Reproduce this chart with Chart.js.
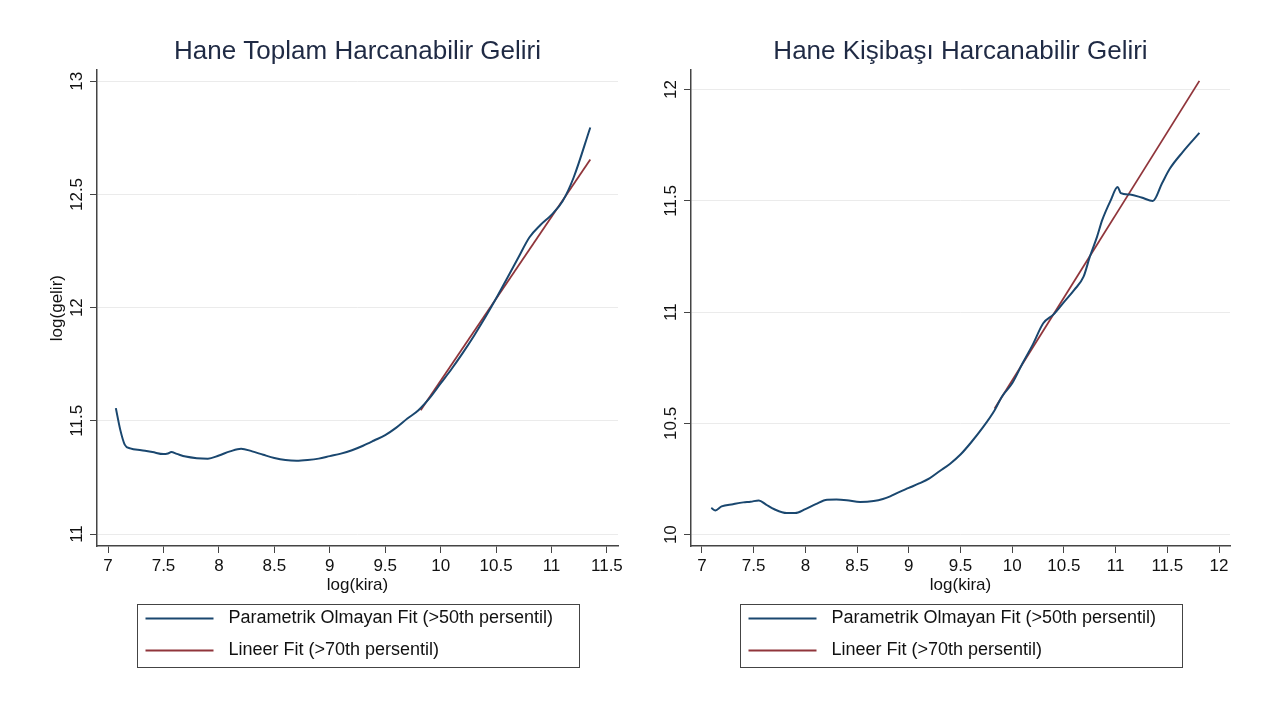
<!DOCTYPE html>
<html>
<head>
<meta charset="utf-8">
<title>log(kira) - log(gelir)</title>
<script src="https://cdn.jsdelivr.net/npm/chart.js@4.4.1/dist/chart.umd.min.js"></script>
<style>
  html, body { margin: 0; padding: 0; background: #fff; }
  #wrap { display: flex; width: 1267px; height: 706px; }
  .panel { position: relative; height: 706px; }
</style>
</head>
<body>
<div id="wrap">
  <div class="panel" style="width:633px"><canvas id="leftChart" width="633" height="706"></canvas></div>
  <div class="panel" style="width:634px"><canvas id="rightChart" width="634" height="706"></canvas></div>
</div>
<script>
// Hane toplam gelir: local fit (>50th) and linear fit (>70th)
const totalKira = [7.07, 7.11, 7.15, 7.2, 7.3, 7.4, 7.5, 7.54, 7.57, 7.62, 7.7, 7.8, 7.9, 8.0, 8.1, 8.2,
  8.3, 8.4, 8.5, 8.6, 8.7, 8.8, 8.9, 9.0, 9.1, 9.2, 9.3, 9.4, 9.5, 9.6, 9.7, 9.8, 9.9, 10.0, 10.1,
  10.2, 10.3, 10.4, 10.5, 10.6, 10.7, 10.8, 10.9, 11.0, 11.1, 11.2, 11.35];
const totalGelir = [11.556, 11.46, 11.395, 11.378, 11.370, 11.362, 11.353, 11.356, 11.362, 11.354,
  11.342, 11.335, 11.333, 11.347, 11.365, 11.377, 11.365, 11.350, 11.336, 11.327, 11.324, 11.327,
  11.333, 11.344, 11.355, 11.37, 11.39, 11.413, 11.437, 11.47, 11.51, 11.547, 11.60, 11.665, 11.73,
  11.80, 11.875, 11.955, 12.04, 12.13, 12.22, 12.31, 12.365, 12.41, 12.47, 12.575, 12.796];
const totalLinKira = [9.82, 11.35];
const totalLinGelir = [11.547, 12.654];

// Hane kisibasi gelir
const perKira = [7.09, 7.13, 7.19, 7.3, 7.4, 7.47, 7.55, 7.62, 7.7, 7.82, 7.9, 8.0, 8.1, 8.21, 8.3,
  8.4, 8.53, 8.66, 8.75, 8.82, 8.9, 9.0, 9.1, 9.2, 9.3, 9.4, 9.5, 9.6, 9.72, 9.83, 9.9, 10.0, 10.1,
  10.2, 10.3, 10.4, 10.5, 10.6, 10.69, 10.75, 10.82, 10.87, 10.95, 11.02, 11.05, 11.14, 11.25,
  11.36, 11.45, 11.525, 11.65, 11.81];
const perGelir = [10.12, 10.109, 10.127, 10.137, 10.145, 10.148, 10.154, 10.135, 10.114, 10.097,
  10.097, 10.115, 10.137, 10.157, 10.158, 10.155, 10.147, 10.151, 10.16, 10.172, 10.19, 10.21,
  10.23, 10.253, 10.286, 10.319, 10.36, 10.413, 10.484, 10.559, 10.62, 10.68, 10.77, 10.855, 10.95,
  10.99, 11.045, 11.10, 11.159, 11.248, 11.338, 11.413, 11.50, 11.562, 11.535, 11.528, 11.515,
  11.499, 11.58, 11.645, 11.72, 11.805];
const perLinKira = [9.83, 11.81];
const perLinGelir = [10.567, 12.039];

const totalXTicks = [7, 7.5, 8, 8.5, 9, 9.5, 10, 10.5, 11, 11.5];
const totalYTicks = [11, 11.5, 12, 12.5, 13];
const perXTicks = [7, 7.5, 8, 8.5, 9, 9.5, 10, 10.5, 11, 11.5, 12];
const perYTicks = [10, 10.5, 11, 11.5, 12];

const seriesNames = ['Parametrik Olmayan Fit (>50th persentil)', 'Lineer Fit (>70th persentil)'];

const FONT = "'Liberation Sans', Arial, sans-serif";
const NAVY = '#1a476f';
const MAROON = '#90353b';

const toPoints = (xs, ys) => xs.map((x, i) => ({ x: x, y: ys[i] }));

// y tick labels are written sideways, reading bottom to top
const sidewaysYTicks = {
  id: 'sidewaysYTicks',
  afterDraw(chart) {
    const scale = chart.scales.y;
    const ctx = chart.ctx;
    ctx.save();
    ctx.font = `17px ${FONT}`;
    ctx.fillStyle = '#111';
    ctx.textAlign = 'center';
    ctx.textBaseline = 'middle';
    scale.ticks.forEach(t => {
      ctx.save();
      ctx.translate(scale.right - 20, scale.getPixelForValue(t.value));
      ctx.rotate(-Math.PI / 2);
      ctx.fillText(String(t.value), 0, 0);
      ctx.restore();
    });
    ctx.restore();
  }
};

// legend in a framed box under the x axis, one series per row
const boxedLegend = {
  id: 'boxedLegend',
  afterDraw(chart) {
    const { ctx, chartArea } = chart;
    const w = 442, h = 63;
    const left = Math.round((chartArea.left + chartArea.right) / 2 - w / 2) + 0.5;
    const top = 604.5;
    ctx.save();
    ctx.strokeStyle = '#444';
    ctx.lineWidth = 1;
    ctx.strokeRect(left, top, w, h);
    ctx.font = `18px ${FONT}`;
    ctx.fillStyle = '#111';
    ctx.textBaseline = 'middle';
    chart.data.datasets.forEach((ds, i) => {
      const y = top + 14 + i * 32;
      ctx.strokeStyle = ds.borderColor;
      ctx.lineWidth = 2;
      ctx.beginPath();
      ctx.moveTo(left + 8, y);
      ctx.lineTo(left + 76, y);
      ctx.stroke();
      ctx.fillText(ds.label, left + 91, y);
    });
    ctx.restore();
  }
};

function makeChart(canvasId, opts) {
  const ctx = document.getElementById(canvasId).getContext('2d');
  return new Chart(ctx, {
    type: 'line',
    data: {
      datasets: [
        {
          label: seriesNames[0],
          data: toPoints(opts.kira, opts.gelir),
          borderColor: NAVY,
          backgroundColor: NAVY,
          borderWidth: 2,
          pointRadius: 0,
          cubicInterpolationMode: 'monotone',
          fill: false
        },
        {
          label: seriesNames[1],
          data: toPoints(opts.linKira, opts.linGelir),
          borderColor: MAROON,
          backgroundColor: MAROON,
          borderWidth: 1.8,
          pointRadius: 0,
          fill: false
        }
      ]
    },
    options: {
      responsive: false,
      animation: false,
      layout: {
        padding: { top: 0, left: 0, right: opts.padRight, bottom: 110 }
      },
      scales: {
        x: {
          type: 'linear',
          min: opts.xMin,
          max: opts.xMax,
          afterBuildTicks: scale => { scale.ticks = opts.xTicks.map(v => ({ value: v })); },
          afterFit: scale => { scale.height = 50; },
          grid: { drawOnChartArea: false, drawTicks: true, tickLength: 7, tickColor: '#444' },
          border: { color: '#444', width: 1.5 },
          ticks: {
            color: '#111',
            font: { family: FONT, size: 17 },
            padding: 3,
            maxRotation: 0,
            callback: v => String(v)
          },
          title: {
            display: true,
            text: 'log(kira)',
            color: '#111',
            font: { family: FONT, size: 17 },
            padding: { top: 0, bottom: 0 }
          }
        },
        y: {
          type: 'linear',
          min: opts.yMin,
          max: opts.yMax,
          afterBuildTicks: scale => { scale.ticks = opts.yTicks.map(v => ({ value: v })); },
          afterFit: scale => { scale.width = opts.yWidth; },
          grid: { color: '#ebebeb', lineWidth: 1, drawTicks: true, tickLength: 7, tickColor: '#444' },
          border: { color: '#444', width: 1.5 },
          ticks: { display: false },
          title: {
            display: opts.yTitle,
            text: 'log(gelir)',
            color: '#111',
            font: { family: FONT, size: 17 },
            padding: { top: 47, bottom: 0 }
          }
        }
      },
      plugins: {
        legend: { display: false },
        tooltip: { enabled: false },
        title: {
          display: true,
          text: opts.title,
          fullSize: false,
          color: '#1f2a44',
          font: { family: FONT, size: 26, weight: 'normal' },
          padding: { top: 36, bottom: 3 }
        }
      }
    },
    plugins: [sidewaysYTicks, boxedLegend]
  });
}

makeChart('leftChart', {
  title: 'Hane Toplam Harcanabilir Geliri',
  kira: totalKira, gelir: totalGelir,
  linKira: totalLinKira, linGelir: totalLinGelir,
  xMin: 6.9, xMax: 11.6, yMin: 10.947, yMax: 13.049,
  xTicks: totalXTicks, yTicks: totalYTicks,
  yWidth: 97, padRight: 15, yTitle: true
});

makeChart('rightChart', {
  title: 'Hane Kişibaşı Harcanabilir Geliri',
  kira: perKira, gelir: perGelir,
  linKira: perLinKira, linGelir: perLinGelir,
  xMin: 6.894, xMax: 12.106, yMin: 9.949, yMax: 12.087,
  xTicks: perXTicks, yTicks: perYTicks,
  yWidth: 58, padRight: 37, yTitle: false
});
</script>
</body>
</html>
